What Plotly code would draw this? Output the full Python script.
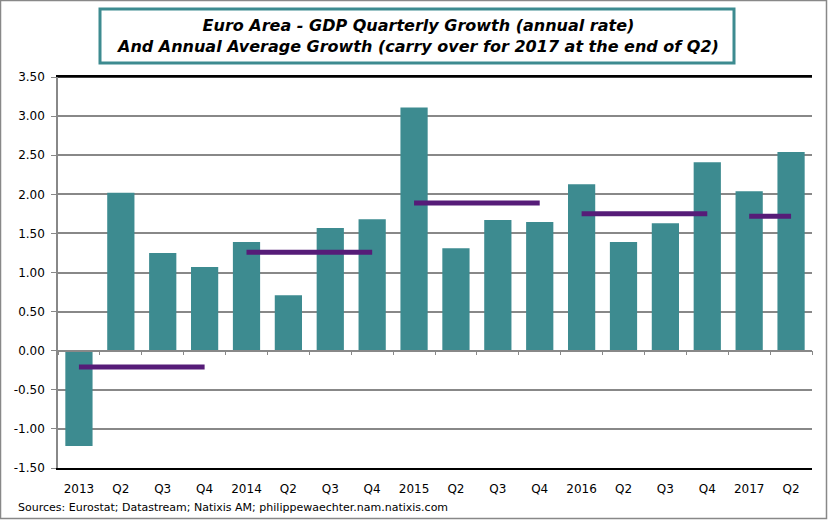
import plotly.graph_objects as go

# ---- data ----
quarters = ["2013Q1", "2013Q2", "2013Q3", "2013Q4",
            "2014Q1", "2014Q2", "2014Q3", "2014Q4",
            "2015Q1", "2015Q2", "2015Q3", "2015Q4",
            "2016Q1", "2016Q2", "2016Q3", "2016Q4",
            "2017Q1", "2017Q2"]
tick_labels = ["2013", "Q2", "Q3", "Q4", "2014", "Q2", "Q3", "Q4",
               "2015", "Q2", "Q3", "Q4", "2016", "Q2", "Q3", "Q4",
               "2017", "Q2"]
qoq_annualized = [-1.22, 2.02, 1.25, 1.07, 1.39, 0.71, 1.57, 1.68,
                  3.11, 1.31, 1.67, 1.645, 2.13, 1.39, 1.63, 2.41,
                  2.04, 2.54]

# annual average growth: (first quarter, last quarter, value)
avg_years = ["2013", "2014", "2015", "2016", "2017"]
avg_start = ["2013Q1", "2014Q1", "2015Q1", "2016Q1", "2017Q1"]
avg_end = ["2013Q4", "2014Q4", "2015Q4", "2016Q4", "2017Q2"]
avg_values = [-0.21, 1.26, 1.89, 1.75, 1.72]

y_ticks = [-1.5, -1.0, -0.5, 0.0, 0.5, 1.0, 1.5, 2.0, 2.5, 3.0, 3.5]
y_tick_labels = ["-1.50", "-1.00", "-0.50", "0.00", "0.50", "1.00",
                 "1.50", "2.00", "2.50", "3.00", "3.50"]

title_lines = ["Euro Area - GDP Quarterly Growth (annual rate)",
               "And Annual Average Growth (carry over for 2017 at the end of Q2)"]
source_text = "Sources: Eurostat; Datastream; Natixis AM; philippewaechter.nam.natixis.com"

# ---- layout geometry ----
W, H = 828, 520
ML, MR, MT, MB = 58, 16, 77, 52
PW, PH = W - ML - MR, H - MT - MB
YMIN, YMAX = -1.5, 3.5


def px_x(px):
    return (px - ML) / PW


def px_y(py):
    return (H - MB - py) / PH


TEAL = "#3D8B90"
PURPLE = "#561C78"
GRID = "#888888"
FONT = "DejaVu Sans"

n = len(qoq_annualized)
zero_pos = (0 - YMIN) / (YMAX - YMIN)

fig = go.Figure()

fig.add_trace(go.Bar(
    x=quarters[:n], y=qoq_annualized,
    marker=dict(color=TEAL, line=dict(width=0)),
    width=0.65, showlegend=False, hoverinfo="x+y",
))

for yr, s, e, v in zip(avg_years, avg_start, avg_end, avg_values):
    fig.add_trace(go.Scatter(
        x=[s, e], y=[v, v], mode="lines",
        line=dict(color=PURPLE, width=5),
        showlegend=False, name=yr,
    ))

# invisible trace on the overlay axis carrying the zero-line ticks
fig.add_trace(go.Scatter(
    x=quarters[:n], y=[0] * n,
    xaxis="x2", mode="markers", marker=dict(opacity=0),
    showlegend=False, hoverinfo="skip",
))

fig.update_layout(
    width=W, height=H,
    margin=dict(l=ML, r=MR, t=MT, b=MB),
    paper_bgcolor="white", plot_bgcolor="white",
    font=dict(family=FONT, size=11, color="#000000"),
    xaxis=dict(
        type="category", categoryorder="array",
        categoryarray=quarters[:n],
        range=[-0.5, n - 0.5],
        tickmode="array", tickvals=quarters[:n], ticktext=tick_labels[:n],
        ticks="", showgrid=False, zeroline=False,
        showline=True, linecolor="#000000", linewidth=1.5, mirror=True,
        ticklabelstandoff=9,
        tickfont=dict(family=FONT, size=12, color="#000000"),
    ),
    xaxis2=dict(
        type="category", categoryorder="array",
        categoryarray=quarters[:n],
        overlaying="x", anchor="free", position=zero_pos,
        range=[-0.5, n - 0.5],
        tickmode="linear", tick0=0, dtick=1, tickson="boundaries",
        ticks="outside", ticklen=4, tickcolor=GRID, tickwidth=1,
        showticklabels=False, showgrid=False, zeroline=False,
        showline=True, linecolor=GRID, linewidth=1.5,
    ),
    yaxis=dict(
        range=[YMIN, YMAX],
        tickmode="array", tickvals=y_ticks, ticktext=y_tick_labels,
        ticks="outside", ticklen=5, tickcolor=GRID,
        showgrid=True, gridcolor=GRID, gridwidth=1.5,
        zeroline=False,
        showline=True, linecolor=GRID, linewidth=1.5,
        ticklabelstandoff=4,
        tickfont=dict(family=FONT, size=12, color="#000000"),
    ),
    shapes=[
        # plot frame (top)
        dict(type="line", xref="x domain", yref="y domain", x0=0, x1=1, y0=1, y1=1,
             line=dict(color="#000000", width=1.5), layer="above"),
        # title box
        dict(type="rect", xref="paper", yref="paper",
             x0=px_x(100), x1=px_x(734), y0=px_y(63), y1=px_y(9),
             line=dict(color=TEAL, width=3), fillcolor="white", layer="above"),
        # outer chart border
        dict(type="rect", xref="paper", yref="paper",
             x0=px_x(0.5), x1=px_x(W - 1.5), y0=px_y(H - 1.5), y1=px_y(0.5),
             line=dict(color=GRID, width=1.5), layer="above"),
    ],
    annotations=[
        dict(xref="paper", yref="paper", x=px_x(417), y=px_y(36),
             xanchor="center", yanchor="middle", showarrow=False,
             text="<b><i>" + title_lines[0] + "<br>" + title_lines[1] + "</i></b>",
             font=dict(family=FONT, size=16, color="#000000"), align="center"),
        dict(xref="paper", yref="paper", x=px_x(16), y=px_y(507),
             xanchor="left", yanchor="middle", showarrow=False,
             text=source_text,
             font=dict(family=FONT, size=11, color="#000000")),
    ],
)

fig.write_html("out.html", config={"displayModeBar": False},
               post_script="document.body.style.margin='0';")
